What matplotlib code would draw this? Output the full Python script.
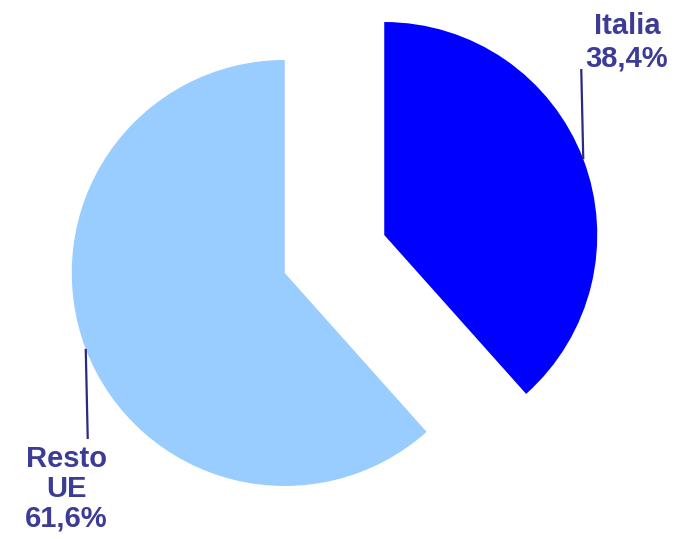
import numpy as np
import matplotlib.pyplot as plt

labels = ["Italia", "Resto\nUE"]
shares = [38.4, 61.6]
colors = ["#0000ff", "#99ccff"]
label_pos = [(627, 42), (66, 489)]   # label centres, pixels from top-left
label_spacing = [1.2, 1.08]

W, H = 677, 539
R = 213
cx, cy = 334.5, H - 254
explode = 0.25 * R   # pie() takes the offset in data units

fig = plt.figure(figsize=(W / 100, H / 100), dpi=100)
ax = fig.add_axes([0, 0, 1, 1])

ax.pie(shares, colors=colors, startangle=90, counterclock=False,
       radius=R, center=(cx, cy), explode=[explode] * len(shares),
       wedgeprops=dict(linewidth=0))

# pie() resets the limits, so fix them afterwards
ax.set_xlim(0, W)
ax.set_ylim(0, H)
ax.set_aspect("equal")
ax.axis("off")

txt_color = "#3c3c96"
start = 90.0
for lab, val, (lx, ly), ls in zip(labels, shares, label_pos, label_spacing):
    span = val / 100 * 360
    mid = np.deg2rad(start - span / 2)
    start -= span
    # wedge centre after explode, then point on the arc at mid-angle
    wx = cx + explode * np.cos(mid)
    wy = cy + explode * np.sin(mid)
    px = wx + R * np.cos(mid)
    py = wy + R * np.sin(mid)
    ty = H - ly
    if ty > py:
        end_y = ty - 27
    else:
        end_y = ty + 50
    ax.plot([px, px - 2 * np.sign(np.cos(mid))], [py, end_y], color="#2a2a80", lw=1.6,
            solid_capstyle="butt")
    pct = f"{val:.1f}%".replace(".", ",")
    ax.text(lx, ty, f"{lab}\n{pct}", ha="center", va="center", color=txt_color,
            fontsize=21, fontweight="bold", family=["Liberation Sans", "DejaVu Sans"],
            linespacing=ls, multialignment="center")

fig.savefig("out.png", dpi=100)
